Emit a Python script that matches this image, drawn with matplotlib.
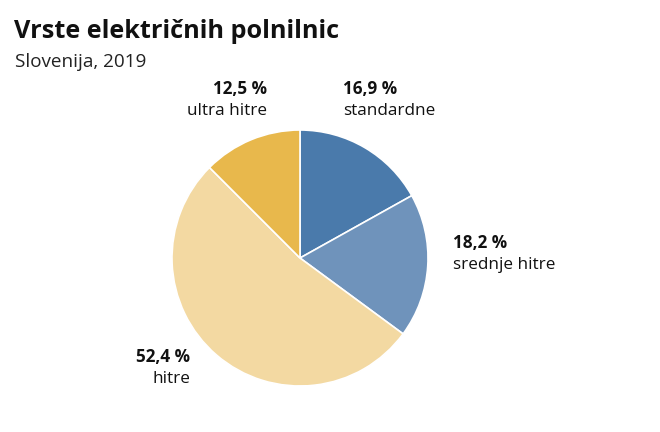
import matplotlib
matplotlib.use("Agg")
import matplotlib.pyplot as plt

categories = ["standardne", "srednje hitre", "hitre", "ultra hitre"]
values = [16.9, 18.2, 52.4, 12.5]
value_labels = ["16,9 %", "18,2 %", "52,4 %", "12,5 %"]
colors = ["#4a7aab", "#6f93bb", "#f3d9a2", "#e8b84c"]

plt.rcParams['font.family'] = ['Open Sans', 'DejaVu Sans']

fig = plt.figure(figsize=(6.6, 4.32), dpi=100)
W, H = 660, 432
cx, cy, r = 300, 258, 128
ax = fig.add_axes([(cx - r) / W, (H - cy - r) / H, 2 * r / W, 2 * r / H])
ax.pie(values, colors=colors, startangle=90, counterclock=False,
       wedgeprops=dict(edgecolor="white", linewidth=1.2), radius=1)
ax.set_xlim(-1, 1)
ax.set_ylim(-1, 1)
ax.set_aspect("equal")
ax.axis("off")

fig.text(14 / W, 1 - 38 / H, "Vrste električnih polnilnic", fontsize=18.2,
         fontweight="bold", ha="left", va="baseline", color="#111111")
fig.text(15 / W, 1 - 67 / H, "Slovenija, 2019", fontsize=13.6,
         ha="left", va="baseline", color="#222222")

# label positions (pixels): (x, y_baseline_value, ha)
pos = {
    "standardne": (343, 94, "left"),
    "srednje hitre": (453, 248, "left"),
    "hitre": (190, 362, "right"),
    "ultra hitre": (267, 94, "right"),
}
for cat, vl in zip(categories, value_labels):
    x, y, ha = pos[cat]
    fig.text(x / W, 1 - y / H, vl, fontsize=12.3, fontweight="bold",
             ha=ha, va="baseline", color="#111111")
    fig.text(x / W, 1 - (y + 21) / H, cat, fontsize=12.3,
             ha=ha, va="baseline", color="#111111")

fig.savefig("out.png", dpi=100)
